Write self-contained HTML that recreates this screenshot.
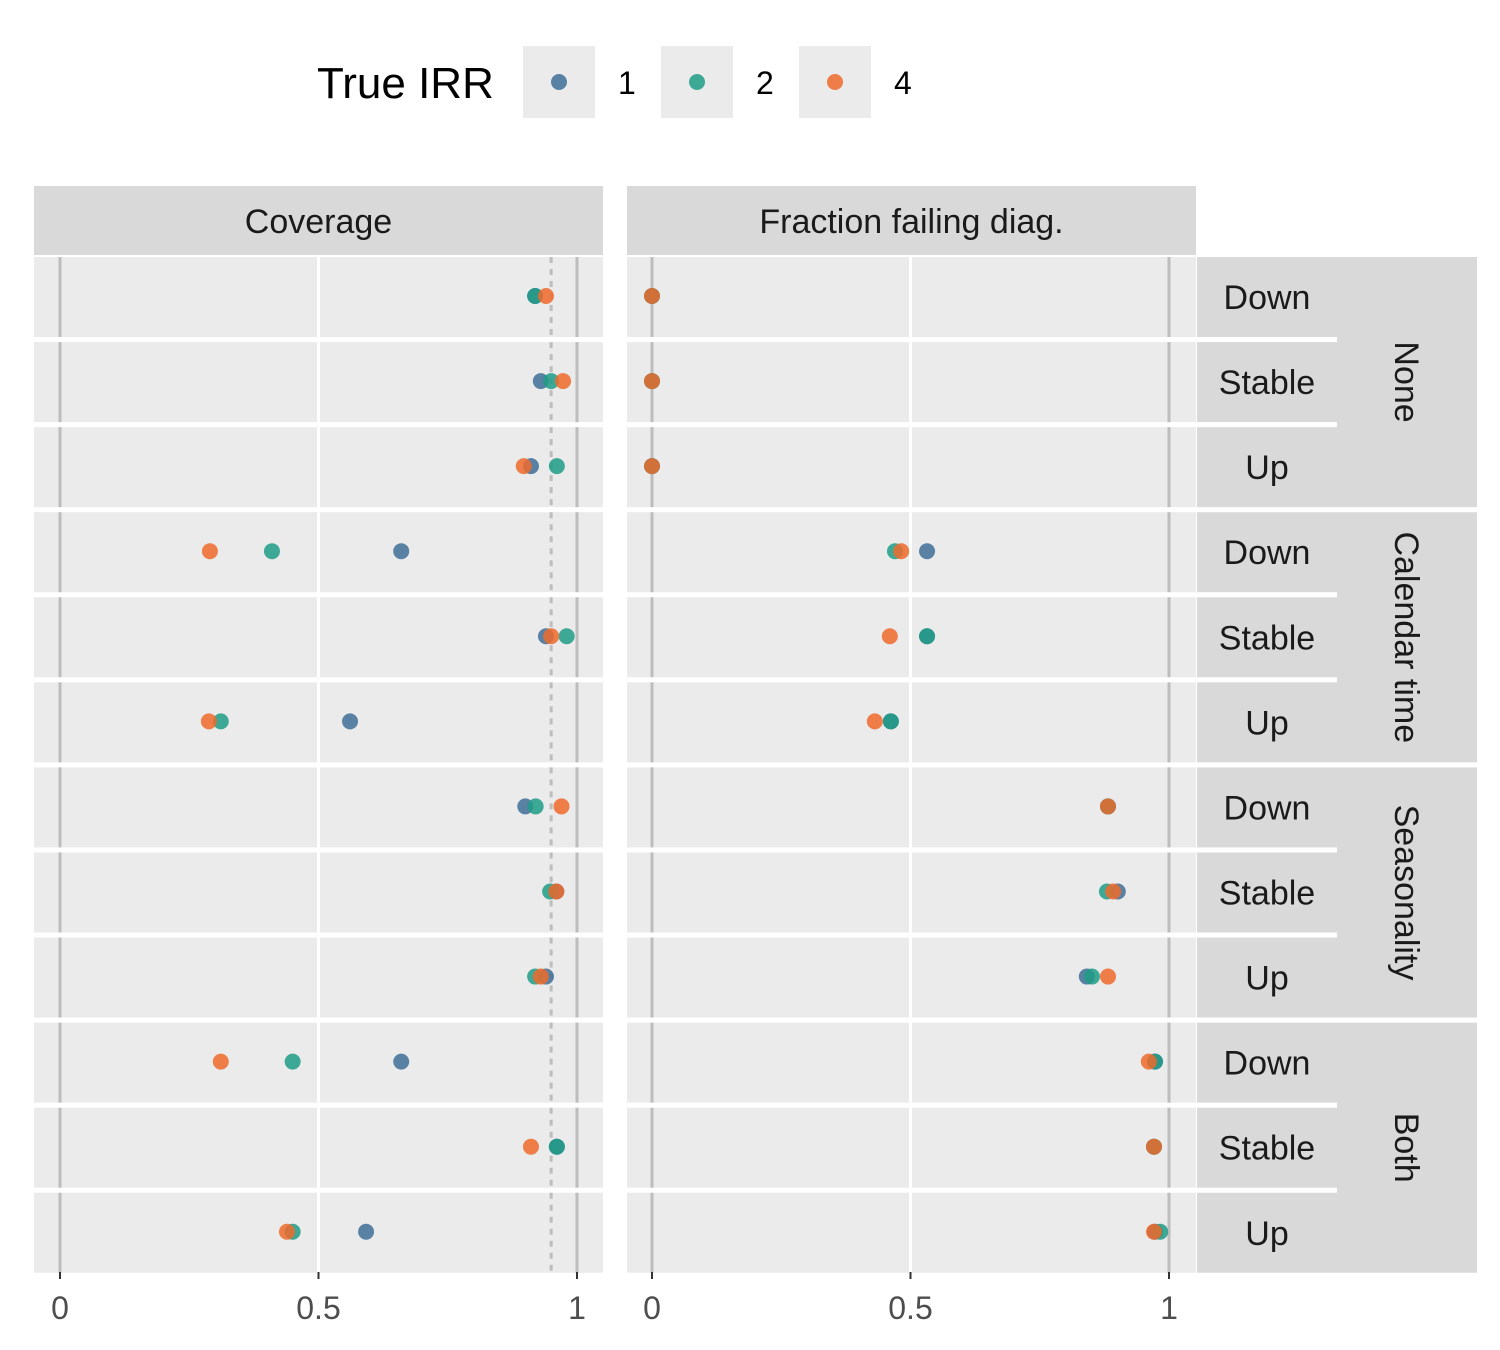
<!DOCTYPE html>
<html><head><meta charset="utf-8"><style>
body{margin:0;background:#fff}
svg{display:block;font-family:"Liberation Sans",Arial,sans-serif}
</style></head><body>
<svg id="chart" width="1500" height="1350" xmlns="http://www.w3.org/2000/svg">
<g>
<text x="317" y="98" font-size="44" fill="#000">True IRR</text>
<rect x="523" y="46" width="72" height="72" fill="#ebebeb"/>
<circle cx="559" cy="82" r="8" fill="#3f6e97" fill-opacity="0.85"/>
<text x="618" y="94" font-size="32">1</text>
<rect x="661" y="46" width="72" height="72" fill="#ebebeb"/>
<circle cx="697" cy="82" r="8" fill="#1f9c86" fill-opacity="0.85"/>
<text x="756" y="94" font-size="32">2</text>
<rect x="799" y="46" width="72" height="72" fill="#ebebeb"/>
<circle cx="835" cy="82" r="8" fill="#ee6a2c" fill-opacity="0.85"/>
<text x="894" y="94" font-size="32">4</text>
</g>
<g id="plot"></g>
</svg>
<script>
const rowLabels=["Down","Stable","Up","Down","Stable","Up","Down","Stable","Up","Down","Stable","Up"];
const groups=["None","Calendar time","Seasonality","Both"];
const panels=["Coverage","Fraction failing diag."];
const irr=["1","2","4"];
const coverage1=[0.919,0.93,0.911,0.66,0.94,0.561,0.90,0.96,0.94,0.66,0.961,0.592];
const coverage2=[0.919,0.95,0.961,0.41,0.98,0.311,0.92,0.948,0.919,0.45,0.961,0.45];
const coverage4=[0.94,0.973,0.897,0.29,0.95,0.288,0.97,0.96,0.93,0.311,0.911,0.439];
const fail1=[0,0,0,0.532,0.532,0.462,0.882,0.901,0.841,0.973,0.971,0.973];
const fail2=[0,0,0,0.47,0.532,0.462,0.882,0.88,0.851,0.973,0.971,0.983];
const fail4=[0,0,0,0.482,0.46,0.431,0.882,0.892,0.882,0.961,0.971,0.971];
const ticks=[0,0.5,1];
const tickLabels=["0","0.5","1"];
const refLine=0.95;

const NS="http://www.w3.org/2000/svg";
const root=document.getElementById('plot');
function mk(tag,attrs,parent){const e=document.createElementNS(NS,tag);for(const k in attrs)e.setAttribute(k,attrs[k]);(parent||root).appendChild(e);return e;}
const colors=["#3f6e97","#1f9c86","#ee6a2c"];
const panelX=[34,627],panelW=569,zeroX=[60,652],unit=517;
const rowTop=i=>257+i*85.07, rowH=80;
const series=[[coverage1,coverage2,coverage4],[fail1,fail2,fail4]];
function xs(p,v){return zeroX[p]+v*unit;}

for(let p=0;p<2;p++){
  let s=mk('rect',{x:panelX[p],y:186,width:panelW,height:69,fill:'#d9d9d9'});
  
  
  let t=mk('text',{x:panelX[p]+panelW/2,y:233,'font-size':34,'text-anchor':'middle',fill:'#1a1a1a'});
  t.textContent=panels[p];
  
  
  for(let r=0;r<12;r++){
    const y=rowTop(r);
    let bg=mk('rect',{x:panelX[p],y:y,width:panelW,height:rowH,fill:'#ebebeb'});
    
    
    ticks.forEach((tv,k)=>{
      let l=mk('line',{x1:xs(p,tv),x2:xs(p,tv),y1:y,y2:y+rowH,stroke:k==1?'#fff':'#bdbdbd','stroke-width':3});
      
      
    });
    if(p==0){
      let d=mk('line',{x1:xs(0,refLine),x2:xs(0,refLine),y1:y,y2:y+rowH,stroke:'#bdbdbd','stroke-width':3,'stroke-dasharray':'6,6'});
      
      
    }
    for(let sI=0;sI<3;sI++){
      let c=mk('circle',{cx:xs(p,series[p][sI][r]),cy:y+rowH/2-1,r:8,fill:colors[sI],'fill-opacity':0.85});
      
      
    }
  }
  ticks.forEach((tv,k)=>{
    let tk=mk('line',{x1:xs(p,tv),x2:xs(p,tv),y1:1272,y2:1279,stroke:'#333','stroke-width':2});
    
    
    let tl=mk('text',{x:xs(p,tv),y:1319,'font-size':32,'text-anchor':'middle',fill:'#4d4d4d'});
    tl.textContent=tickLabels[k];
    
    
  });
}
for(let r=0;r<12;r++){
  const y=rowTop(r);
  let s=mk('rect',{x:1197,y:y,width:140,height:rowH,fill:'#d9d9d9'});
  
  
  let t=mk('text',{x:1267,y:y+rowH/2+12,'font-size':34,'text-anchor':'middle',fill:'#1a1a1a'});
  t.textContent=rowLabels[r];
  
  
}
for(let g=0;g<4;g++){
  const y=rowTop(g*3), h=rowTop(g*3+2)+rowH-y;
  let s=mk('rect',{x:1337,y:y,width:140,height:h,fill:'#d9d9d9'});
  
  
  const cy=y+h/2;
  let t=mk('text',{x:1395,y:cy,'font-size':34,'text-anchor':'middle',fill:'#1a1a1a',transform:`rotate(90 1395 ${cy})`});
  t.textContent=groups[g];
  
  
}
</script>
</body></html>
